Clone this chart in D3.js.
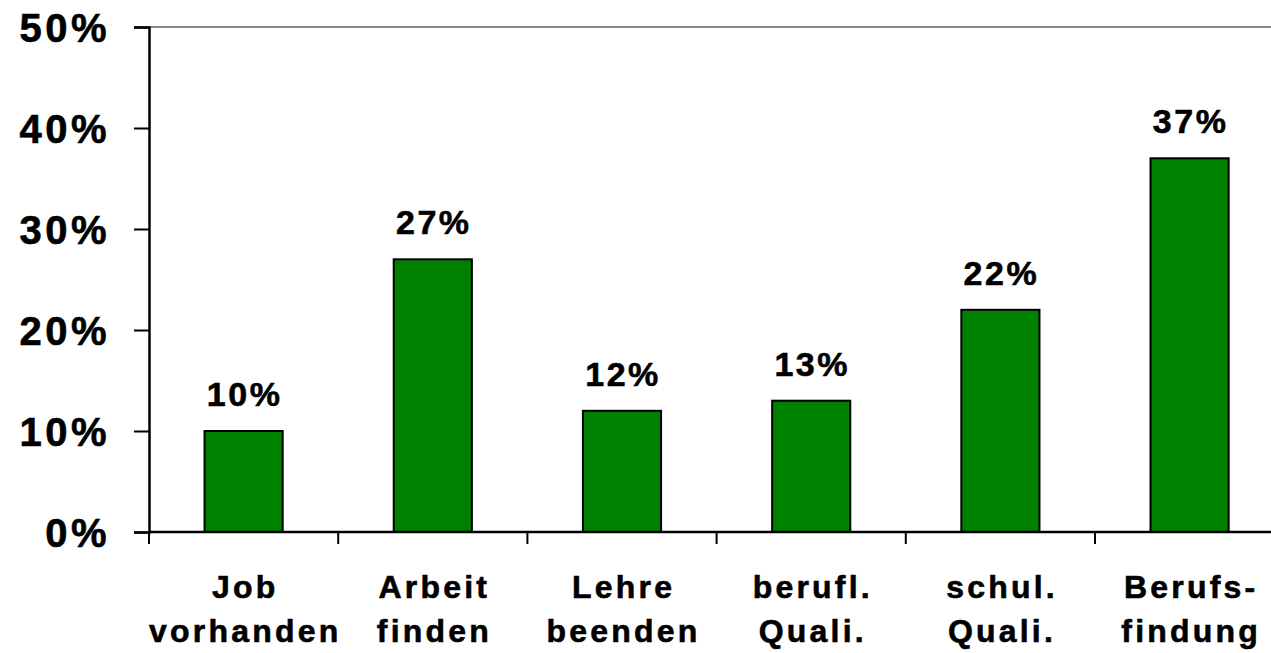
<html>
<head>
<meta charset="utf-8">
<script src="https://cdn.jsdelivr.net/npm/d3@7"></script>
<style>
    body { margin: 0; background: white; }
    text { font-family: "Liberation Sans", Arial, sans-serif; font-weight: bold; fill: black; stroke: black; stroke-width: 0.6px; }
    rect.bar { fill: #008000; stroke: black; stroke-width: 2; }
</style>
</head>
<body>
<script>
// chart data
var categories = ["Job|vorhanden", "Arbeit|finden", "Lehre|beenden", "berufl.|Quali.", "schul.|Quali.", "Berufs-|findung"];
var values = [10, 27, 12, 13, 22, 37];
var yTicks = [0, 10, 20, 30, 40, 50];

var width = 1271, height = 653;

var svg = d3.select("body").append("svg")
    .attr("width", width)
    .attr("height", height);

var x = d3.scaleBand()
    .domain(categories)
    .range([149, 149 + 6 * 189.2])
    .padding(0);

var y = d3.scaleLinear()
    .domain([0, 50])
    .range([532, 27]);

var barFrac = 0.413;

// top frame line (gray)
svg.append("line")
    .attr("x1", 149).attr("x2", width)
    .attr("y1", y(50)).attr("y2", y(50))
    .attr("stroke", "#888").attr("stroke-width", 2);

// bars
svg.selectAll("rect.bar")
    .data(values)
    .enter()
    .append("rect")
        .attr("class", "bar")
        .attr("x", function(d, i) { return x(categories[i]) + x.bandwidth() * (1 - barFrac) / 2; })
        .attr("y", function(d) { return y(d); })
        .attr("width", x.bandwidth() * barFrac)
        .attr("height", function(d) { return y(0) - y(d); });

// value labels
svg.selectAll("text.value")
    .data(values)
    .enter()
    .append("text")
        .attr("class", "value")
        .attr("x", function(d, i) { return x(categories[i]) + x.bandwidth() / 2 + 1; })
        .attr("y", function(d) { return y(d) - 25; })
        .attr("text-anchor", "middle")
        .style("font-size", "34px")
        .style("letter-spacing", "2.5px")
        .text(function(d) { return d + "%"; });

// y axis
var yAxis = d3.axisLeft(y)
    .tickValues(yTicks)
    .tickSize(15)
    .tickPadding(24)
    .tickFormat(function(d) { return d + "%"; });

var gy = svg.append("g")
    .attr("transform", "translate(149,0)")
    .call(yAxis);
gy.select(".domain").attr("stroke", "black").attr("stroke-width", 2.5);
gy.selectAll(".tick line").attr("stroke", "black").attr("stroke-width", 2);
gy.selectAll(".tick text")
    .attr("fill", "black")
    .style("font-family", "'Liberation Sans', Arial, sans-serif")
    .style("font-weight", "bold")
    .style("font-size", "40px")
    .style("letter-spacing", "3.5px")
    .attr("dy", "0.36em");

// x axis line
svg.append("line")
    .attr("x1", 149).attr("x2", width)
    .attr("y1", y(0)).attr("y2", y(0))
    .attr("stroke", "black").attr("stroke-width", 2.5);

// x ticks at band boundaries
var bounds = categories.map(function(c) { return x(c); });
svg.selectAll("line.xtick")
    .data(bounds)
    .enter()
    .append("line")
        .attr("class", "xtick")
        .attr("x1", function(d) { return d; }).attr("x2", function(d) { return d; })
        .attr("y1", y(0)).attr("y2", y(0) + 12)
        .attr("stroke", "black").attr("stroke-width", 2);

// category labels (two lines)
var cat = svg.selectAll("text.cat")
    .data(categories)
    .enter()
    .append("text")
        .attr("class", "cat")
        .attr("text-anchor", "middle")
        .style("font-size", "32px")
        .style("letter-spacing", "3.2px");

cat.each(function(c) {
    var t = d3.select(this);
    var cx = x(c) + x.bandwidth() / 2 + 1.6;
    c.split("|").forEach(function(line, k) {
        t.append("tspan")
            .attr("x", cx)
            .attr("y", 598 + k * 44)
            .text(line);
    });
});
</script>
</body>
</html>
